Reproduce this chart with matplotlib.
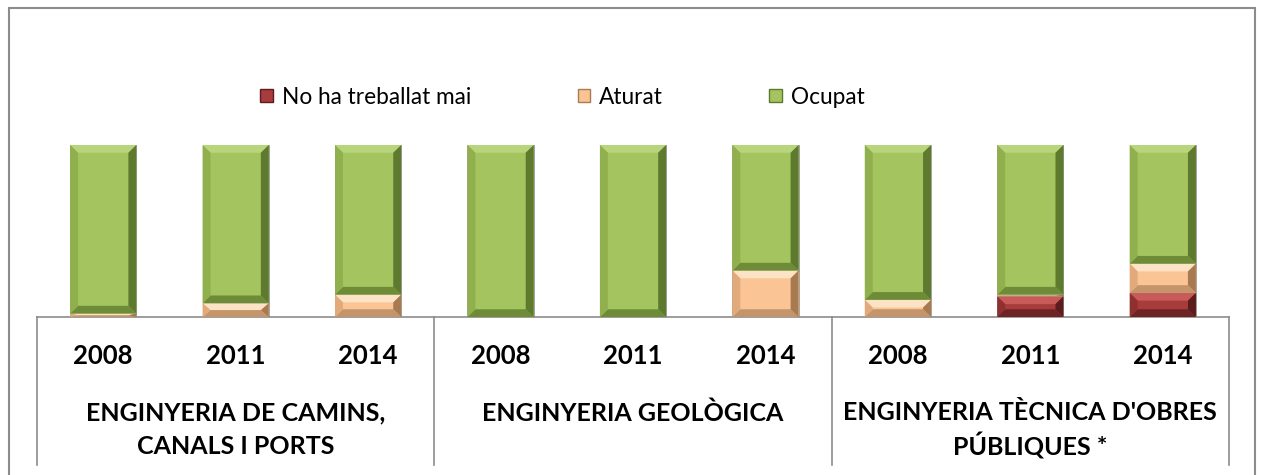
import numpy as np
import matplotlib
matplotlib.use("Agg")
from matplotlib import pyplot as plt
from matplotlib.patches import Polygon, Rectangle, Patch

years = ["2008", "2011", "2014"] * 3
groups = [["ENGINYERIA DE CAMINS,", "CANALS I PORTS"],
          ["ENGINYERIA GEOLÒGICA"],
          ["ENGINYERIA TÈCNICA D'OBRES", "PÚBLIQUES *"]]
series_names = ["No ha treballat mai", "Aturat", "Ocupat"]
no_ha_treballat = [0, 0, 0, 0, 0, 0, 0, 12, 14]
aturat = [2, 8, 13, 0, 0, 27, 10, 1, 17]
ocupat = [98, 92, 87, 100, 100, 73, 90, 87, 69]

# face, top, left, right, bottom
shades = {
    "No ha treballat mai": ["#A83C3C", "#C85A5A", "#8E3030", "#5A1C1C", "#6E2424"],
    "Aturat": ["#FAC494", "#FDE3C6", "#E2AA7A", "#A87A50", "#C4946A"],
    "Ocupat": ["#A3C45F", "#B9D57B", "#8FB04C", "#5E7A2E", "#6E8C38"],
}

plt.rcParams['font.family'] = ['Lato', 'DejaVu Sans']

fig = plt.figure(figsize=(12.63, 4.75), dpi=100)
ax = fig.add_axes([37 / 1263, 158 / 475, (1229 - 37) / 1263, 172 / 475])

x = np.arange(len(years))
width = 0.5
bottom = np.zeros(len(years))
for name, vals in zip(series_names, [no_ha_treballat, aturat, ocupat]):
    vals = np.array(vals, dtype=float)
    bars = ax.bar(x, vals, width, bottom=bottom, color=shades[name][0],
                  edgecolor="#9A9A9A", linewidth=0.6, label=name)
    for b in bars:
        h = b.get_height()
        if h <= 0:
            continue
        x0, y0, w = b.get_x(), b.get_y(), b.get_width()
        x1, y1 = x0 + w, y0 + h
        bx = w * 0.12
        by = min(4.5, h / 2)
        face, top, left, right, bot = shades[name]
        polys = [
            ([(x0, y1), (x1, y1), (x1 - bx, y1 - by), (x0 + bx, y1 - by)], top),
            ([(x0, y0), (x1, y0), (x1 - bx, y0 + by), (x0 + bx, y0 + by)], bot),
            ([(x0, y0), (x0 + bx, y0 + by), (x0 + bx, y1 - by), (x0, y1)], left),
            ([(x1, y0), (x1 - bx, y0 + by), (x1 - bx, y1 - by), (x1, y1)], right),
        ]
        for pts, c in polys:
            ax.add_patch(Polygon(pts, closed=True, facecolor=c, edgecolor="none", zorder=3))
    bottom += vals

ax.set_xlim(-0.5, len(years) - 0.5)
ax.set_ylim(0, 100)
ax.set_xticks([])
ax.set_yticks([])
for s in ["top", "left", "right"]:
    ax.spines[s].set_visible(False)
ax.spines["bottom"].set_color("#8C8C8C")
ax.spines["bottom"].set_linewidth(1.2)

# table lines under the axis
trans = ax.get_xaxis_transform()
for xv in [-0.5, 2.5, 5.5, 8.5]:
    ax.plot([xv, xv], [0, -0.86], color="#8C8C8C", lw=1.2, transform=trans, clip_on=False)

for i, yr in enumerate(years):
    ax.text(i, -0.227, yr, transform=trans, ha="center", va="center",
            fontsize=18.5, fontweight="bold")

for g, lines in enumerate(groups):
    xc = g * 3 + 1
    for k, line in enumerate(lines):
        ax.text(xc, -0.558 - k * 0.192, line, transform=trans, ha="center",
                va="center", fontsize=18, fontweight="bold")

handles = [Patch(facecolor=shades[n][0], edgecolor=shades[n][3], linewidth=1.0) for n in series_names]
fig.legend(handles, series_names, loc="center left", bbox_to_anchor=(240 / 1263, 378 / 475),
           ncol=3, frameon=False, fontsize=16.3, handlelength=0.55, handleheight=0.55,
           handletextpad=0.4, columnspacing=4.7)

# outer chart frame
fig.add_artist(Rectangle((9 / 1263, -0.1), (1255 - 9) / 1263, 1.1 - 8 / 475,
                         transform=fig.transFigure, fill=False, edgecolor="#8C8C8C", lw=1.5))

fig.savefig("out.png", dpi=100)
